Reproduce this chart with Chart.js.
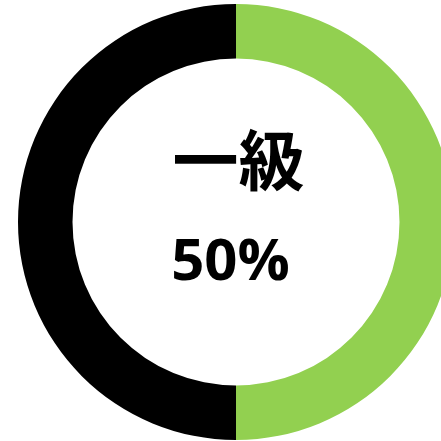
<!DOCTYPE html>
<html>
<head>
<meta charset="utf-8">
<script src="https://cdn.jsdelivr.net/npm/chart.js@4"></script>
<style>
  html, body { margin: 0; padding: 0; width: 441px; height: 441px; overflow: hidden; background: #fff; }
  #wrap { position: absolute; left: 18px; top: 4px; width: 436px; height: 436px; }
  .lbl { position: absolute; left: 0; width: 441px; text-align: center; font-weight: bold; color: #000; white-space: nowrap; }
  #title { top: 116px; font-family: "Noto Sans CJK JP", "Noto Sans CJK SC", sans-serif; font-size: 66px; line-height: 80px; margin-left: 18px; }
  #pct { top: 218px; font-family: "Open Sans", "Noto Sans", sans-serif; font-size: 58px; line-height: 80px; margin-left: 10px; }
</style>
</head>
<body>
<div id="wrap"><canvas id="c"></canvas></div>
<div id="title" class="lbl"></div>
<div id="pct" class="lbl"></div>
<script>
const categories = ["一級", "その他"];
const values = [50, 50];
const colors = ["#92D050", "#000000"];
const centerTitle = "一級";
const centerValue = "50%";

document.getElementById('title').textContent = centerTitle;
document.getElementById('pct').textContent = centerValue;

new Chart(document.getElementById('c'), {
  type: 'doughnut',
  data: {
    labels: categories,
    datasets: [{
      data: values,
      backgroundColor: colors,
      borderWidth: 0,
      hoverOffset: 0
    }]
  },
  options: {
    responsive: true,
    maintainAspectRatio: false,
    animation: false,
    cutout: '75%',
    layout: { padding: 0 },
    events: [],
    plugins: { legend: { display: false }, tooltip: { enabled: false } }
  }
});
</script>
</body>
</html>
